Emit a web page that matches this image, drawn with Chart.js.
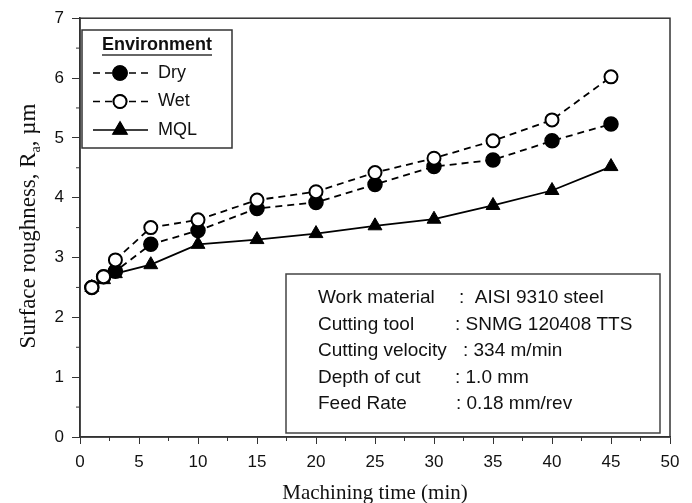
<!DOCTYPE html>
<html>
<head>
<meta charset="utf-8">
<script src="https://cdn.jsdelivr.net/npm/chart.js@4"></script>
<style>
  html, body { margin: 0; padding: 0; background: #fff; }
  #wrap { width: 692px; height: 503px; }
</style>
</head>
<body>
<div id="wrap"><canvas id="chart" width="692" height="503"></canvas></div>
<script>
// machining time (min)
const times = [1, 2, 3, 6, 10, 15, 20, 25, 30, 35, 40, 45];
// surface roughness Ra (um)
const dry = [2.5, 2.68, 2.77, 3.22, 3.45, 3.82, 3.92, 4.22, 4.52, 4.63, 4.95, 5.23];
const wet = [2.5, 2.68, 2.96, 3.5, 3.63, 3.96, 4.1, 4.42, 4.66, 4.95, 5.3, 6.02];
const mql = [2.5, 2.63, 2.73, 2.88, 3.22, 3.3, 3.4, 3.53, 3.64, 3.87, 4.12, 4.52];

const legendTitle = 'Environment';
const infoLabels = ['Work material', 'Cutting tool', 'Cutting velocity', 'Depth of cut', 'Feed Rate'];
const infoValues = [':  AISI 9310 steel', ': SNMG 120408 TTS', ': 334 m/min', ': 1.0 mm', ': 0.18 mm/rev'];

const pts = (ys) => ys.map((y, i) => ({ x: times[i], y: y }));
const SANS = '"Liberation Sans", Arial, sans-serif';
const SERIF = '"Liberation Serif", "Times New Roman", serif';

// frame, minor ticks, y title, legend and info box
const decor = {
    id: 'decor',
    afterDraw(chart) {
        const ctx = chart.ctx;
        const a = chart.chartArea;
        const xs = chart.scales.x, ys = chart.scales.y;
        ctx.save();

        // box around plot
        ctx.strokeStyle = '#333';
        ctx.lineWidth = 1.5;
        ctx.strokeRect(a.left, a.top, a.right - a.left, a.bottom - a.top);

        // minor ticks
        ctx.lineWidth = 1;
        ctx.beginPath();
        for (let v = 2.5; v < 50; v += 5) {
            const px = xs.getPixelForValue(v);
            ctx.moveTo(px, a.bottom); ctx.lineTo(px, a.bottom + 4);
        }
        for (let v = 0.5; v < 7; v += 1) {
            const py = ys.getPixelForValue(v);
            ctx.moveTo(a.left, py); ctx.lineTo(a.left - 4, py);
        }
        ctx.stroke();

        // y axis title with subscript
        ctx.fillStyle = '#111';
        ctx.translate(29, 226);
        ctx.rotate(-Math.PI / 2);
        ctx.textBaseline = 'middle';
        const p1 = 'Surface roughness, R', sub = 'a', p2 = ', \u00b5m';
        ctx.font = '23px ' + SERIF;
        const w1 = ctx.measureText(p1).width, w3 = ctx.measureText(p2).width;
        ctx.font = '14px ' + SERIF;
        const w2 = ctx.measureText(sub).width;
        let x0 = -(w1 + w2 + w3) / 2;
        ctx.textAlign = 'left';
        ctx.font = '23px ' + SERIF;
        ctx.fillText(p1, x0, 0);
        ctx.font = '14px ' + SERIF;
        ctx.fillText(sub, x0 + w1, 7);
        ctx.font = '23px ' + SERIF;
        ctx.fillText(p2, x0 + w1 + w2, 0);
        ctx.setTransform(1, 0, 0, 1, 0, 0);

        // legend
        ctx.fillStyle = '#fff';
        ctx.fillRect(82, 30, 150, 118);
        ctx.strokeStyle = '#333';
        ctx.lineWidth = 1.5;
        ctx.strokeRect(82, 30, 150, 118);
        ctx.fillStyle = '#111';
        ctx.font = 'bold 18px ' + SANS;
        ctx.textAlign = 'center';
        ctx.textBaseline = 'middle';
        ctx.fillText(legendTitle, 157, 45);
        const tw = ctx.measureText(legendTitle).width;
        ctx.lineWidth = 1.5;
        ctx.beginPath();
        ctx.moveTo(157 - tw / 2, 55); ctx.lineTo(157 + tw / 2, 55);
        ctx.stroke();

        chart.data.datasets.forEach((ds, i) => {
            const y = 73 + i * 28.5;
            ctx.strokeStyle = '#000';
            ctx.lineWidth = 1.6;
            ctx.setLineDash(ds.borderDash || []);
            ctx.beginPath();
            ctx.moveTo(93, y); ctx.lineTo(148, y);
            ctx.stroke();
            ctx.setLineDash([]);
            Chart.helpers.drawPoint(ctx, {
                pointStyle: ds.pointStyle, radius: ds.pointRadius, borderWidth: ds.pointBorderWidth, rotation: 0
            }, 120, y);
            ctx.fillStyle = ds.pointBackgroundColor;
            ctx.strokeStyle = '#000';
            ctx.lineWidth = ds.pointBorderWidth;
            ctx.fill();
            ctx.stroke();
            ctx.fillStyle = '#111';
            ctx.font = '18px ' + SANS;
            ctx.textAlign = 'left';
            ctx.fillText(ds.label, 158, y);
        });

        // info box
        ctx.fillStyle = '#fff';
        ctx.fillRect(286, 274, 374, 159);
        ctx.strokeStyle = '#444';
        ctx.lineWidth = 1.5;
        ctx.strokeRect(286, 274, 374, 159);
        ctx.fillStyle = '#111';
        ctx.font = '19px ' + SANS;
        ctx.textAlign = 'left';
        ctx.textBaseline = 'middle';
        const valueX = [459, 455, 463, 455, 456];
        infoLabels.forEach((lab, i) => {
            const y = 298 + i * 26.5;
            ctx.fillText(lab, 318, y);
            ctx.fillText(infoValues[i], valueX[i], y);
        });

        ctx.restore();
    }
};

const ctx = document.getElementById('chart').getContext('2d');
new Chart(ctx, {
    type: 'scatter',
    data: {
        datasets: [
            {
                label: 'Dry', data: pts(dry), showLine: true, order: 1,
                borderColor: '#000', borderWidth: 1.8, borderDash: [7, 5],
                pointStyle: 'circle', pointRadius: 7, pointBorderWidth: 1.5,
                pointBackgroundColor: '#000', pointBorderColor: '#000'
            },
            {
                label: 'Wet', data: pts(wet), showLine: true, order: 0,
                borderColor: '#000', borderWidth: 1.8, borderDash: [7, 5],
                pointStyle: 'circle', pointRadius: 6.5, pointBorderWidth: 2,
                pointBackgroundColor: '#fff', pointBorderColor: '#000'
            },
            {
                label: 'MQL', data: pts(mql), showLine: true, order: 2,
                borderColor: '#000', borderWidth: 1.8,
                pointStyle: 'triangle', pointRadius: 8, pointBorderWidth: 1,
                pointBackgroundColor: '#000', pointBorderColor: '#000'
            }
        ]
    },
    options: {
        responsive: false,
        animation: false,
        layout: { padding: { top: 17, right: 22, left: 0, bottom: 0 } },
        plugins: { legend: { display: false }, tooltip: { enabled: false } },
        scales: {
            x: {
                type: 'linear', min: 0, max: 50,
                afterFit: (s) => { s.height = 66; },
                border: { display: true, color: '#333', width: 1.5 },
                grid: { display: true, drawOnChartArea: false, drawTicks: true, tickLength: 7, color: '#333', tickColor: '#333' },
                ticks: { stepSize: 5, color: '#111', padding: 8, font: { family: SANS, size: 17 }, maxRotation: 0 },
                title: { display: true, text: 'Machining time (min)', color: '#111', font: { family: SERIF, size: 21 }, padding: { top: 4, bottom: -3 } }
            },
            y: {
                min: 0, max: 7,
                afterFit: (s) => { s.width = 80; },
                border: { display: true, color: '#333', width: 1.5 },
                grid: { display: true, drawOnChartArea: false, drawTicks: true, tickLength: 8, color: '#333', tickColor: '#333' },
                ticks: { stepSize: 1, color: '#111', padding: 8, font: { family: SANS, size: 17 } }
            }
        }
    },
    plugins: [decor]
});
</script>
</body>
</html>
